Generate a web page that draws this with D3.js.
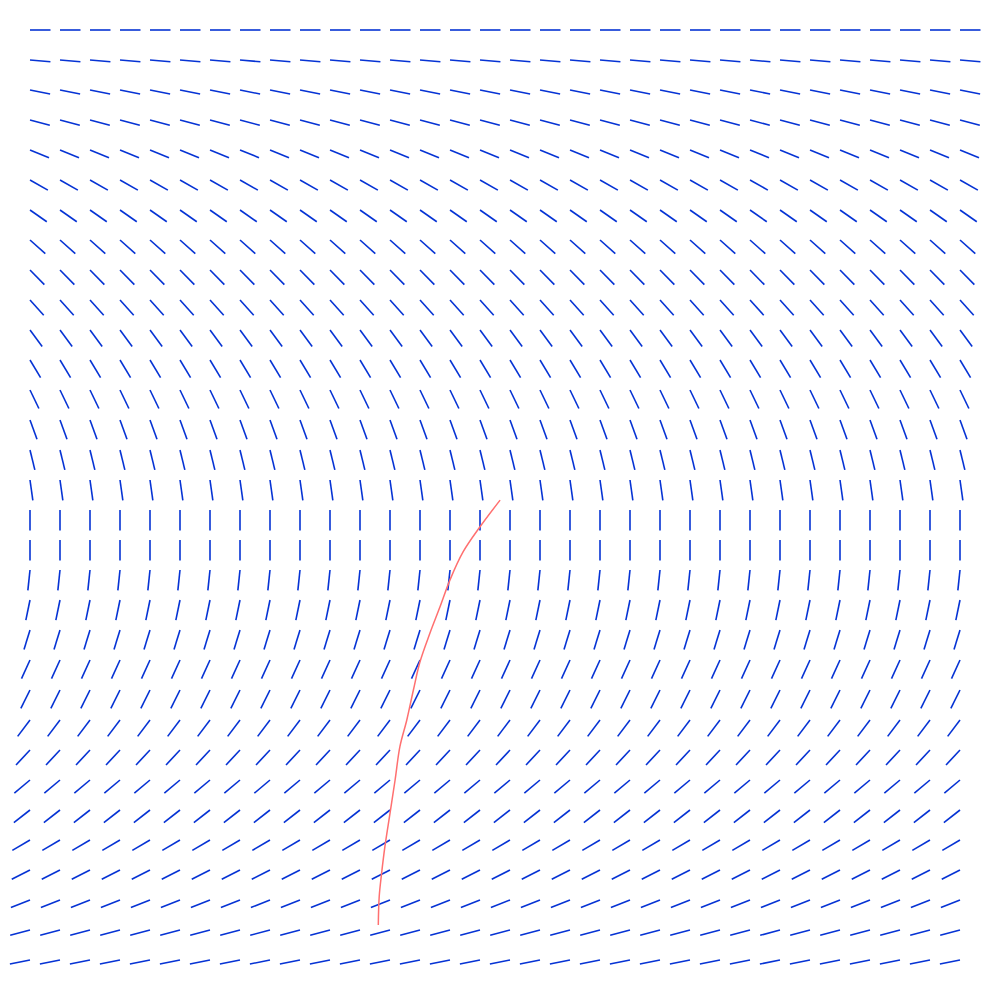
<!DOCTYPE html>
<html>
<head>
<meta charset="utf-8">
<script src="https://cdn.jsdelivr.net/npm/d3@7"></script>
<style>
  html, body { margin: 0; padding: 0; background: #ffffff; }
  svg { display: block; }
</style>
</head>
<body>
<svg id="chart" width="1000" height="1000"></svg>
<script>
// ---- data ----
// grid column and row indices of the direction field
const columns = d3.range(0, 32);
const rows = d3.range(0, 32);
// direction angle of the field for each row (degrees, clockwise from +x on screen)
const rowAngles = [0, 4.9, 11.3, 14.9, 22, 29.5, 35, 41.7, 45.6, 48, 53.6, 58.9, 64.3, 70, 76.3, 82,
                   90, 90, 96, 101.7, 107, 114.5, 116.5, 127, 133, 139.8, 142, 149.5, 153, 158.6, 165, 168.7];
// red solution curve (in grid units)
const curveX = [15.67, 15.0, 14.44, 14.0, 13.67, 13.33, 13.0, 12.78, 12.56, 12.33, 12.17, 12.0, 11.83, 11.72, 11.64, 11.61];
const curveY = [15.67, 16.56, 17.39, 18.33, 19.22, 20.11, 21.06, 22.0, 23.0, 23.89, 25.0, 26.11, 27.22, 28.11, 28.89, 29.83];

// ---- drawing ----
const svg = d3.select("#chart");
const x = d3.scaleLinear().domain([0, 31]).range([30, 960]);
const y = d3.scaleLinear().domain([0, 31]).range([30, 960]);
const segLen = 20.5;

const cells = [];
rows.forEach((r, ri) => {
  columns.forEach(c => cells.push({ c, r, a: rowAngles[ri] }));
});

svg.append("g")
  .selectAll("line")
  .data(cells)
  .join("line")
  .attr("x1", d => x(d.c))
  .attr("y1", d => y(d.r))
  .attr("x2", d => x(d.c) + segLen * Math.cos(d.a * Math.PI / 180))
  .attr("y2", d => y(d.r) + segLen * Math.sin(d.a * Math.PI / 180))
  .attr("stroke", "#0633d4")
  .attr("stroke-width", 1.6)
  .attr("stroke-linecap", "butt");

const pts = curveX.map((v, i) => [v, curveY[i]]);
svg.append("path")
  .datum(pts)
  .attr("fill", "none")
  .attr("stroke", "#ff7070")
  .attr("stroke-width", 1.5)
  .attr("d", d3.line().x(d => x(d[0])).y(d => y(d[1])).curve(d3.curveCatmullRom));
</script>
</body>
</html>
